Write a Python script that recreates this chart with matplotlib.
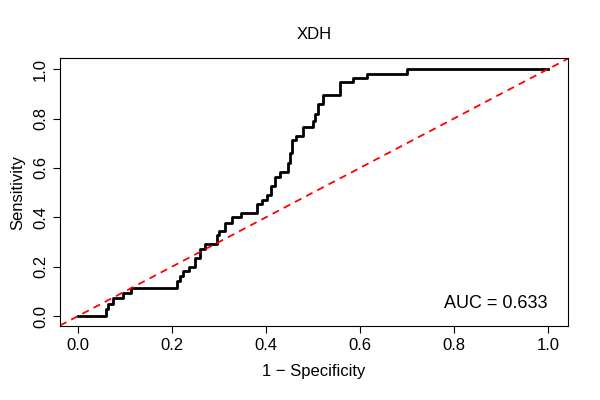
import numpy as np
import matplotlib
matplotlib.use("Agg")
import matplotlib.pyplot as plt

plt.rcParams["font.family"] = ["Liberation Sans", "DejaVu Sans"]

# ROC corner points (1 - specificity, sensitivity), steps-post
fpr = [0.0, 0.054, 0.060, 0.065, 0.075, 0.096, 0.114, 0.206, 0.210, 0.217, 0.224,
       0.236, 0.249, 0.260, 0.270, 0.287, 0.295, 0.300, 0.313, 0.327, 0.348, 0.380,
       0.391, 0.402, 0.410, 0.419, 0.430, 0.447, 0.451, 0.455, 0.465, 0.479, 0.500,
       0.505, 0.511, 0.522, 0.557, 0.586, 0.615, 0.700, 1.0]
tpr = [0.0, 0.0, 0.03, 0.051, 0.072, 0.092, 0.112, 0.112, 0.143, 0.162, 0.181,
       0.200, 0.234, 0.270, 0.290, 0.290, 0.328, 0.345, 0.378, 0.400, 0.418, 0.453,
       0.472, 0.490, 0.525, 0.564, 0.585, 0.618, 0.66, 0.713, 0.729, 0.766, 0.790,
       0.818, 0.858, 0.895, 0.947, 0.966, 0.982, 1.0, 1.0]
auc = 0.633

fig = plt.figure(figsize=(6, 4), dpi=100)
ax = fig.add_axes([0.1, 0.185, 0.847, 0.67])
ax.plot(fpr, tpr, color="black", lw=2.0, drawstyle="steps-post")
ax.axline((0, 0), (1, 1), color="red", ls=(0, (4, 3)), lw=1.3)
ax.set_xlim(-0.038, 1.043)
ax.set_ylim(-0.04, 1.045)
ticks = np.arange(0, 1.01, 0.2)
ax.set_xticks(ticks)
ax.set_yticks(ticks)
ax.set_xticklabels([f"{v:.1f}" for v in ticks])
ax.set_yticklabels([f"{v:.1f}" for v in ticks], rotation=90, va="center")
ax.tick_params(labelsize=12, length=5)
ax.set_xlabel("1 \u2212 Specificity", fontsize=12, labelpad=8)
ax.set_ylabel("Sensitivity", fontsize=12, labelpad=6)
ax.set_title("XDH", fontsize=12, pad=14)
ax.text(1.0, 0.05, f"AUC = {auc:.3f}", ha="right", va="center", fontsize=13)
fig.savefig("out.png", dpi=100)
